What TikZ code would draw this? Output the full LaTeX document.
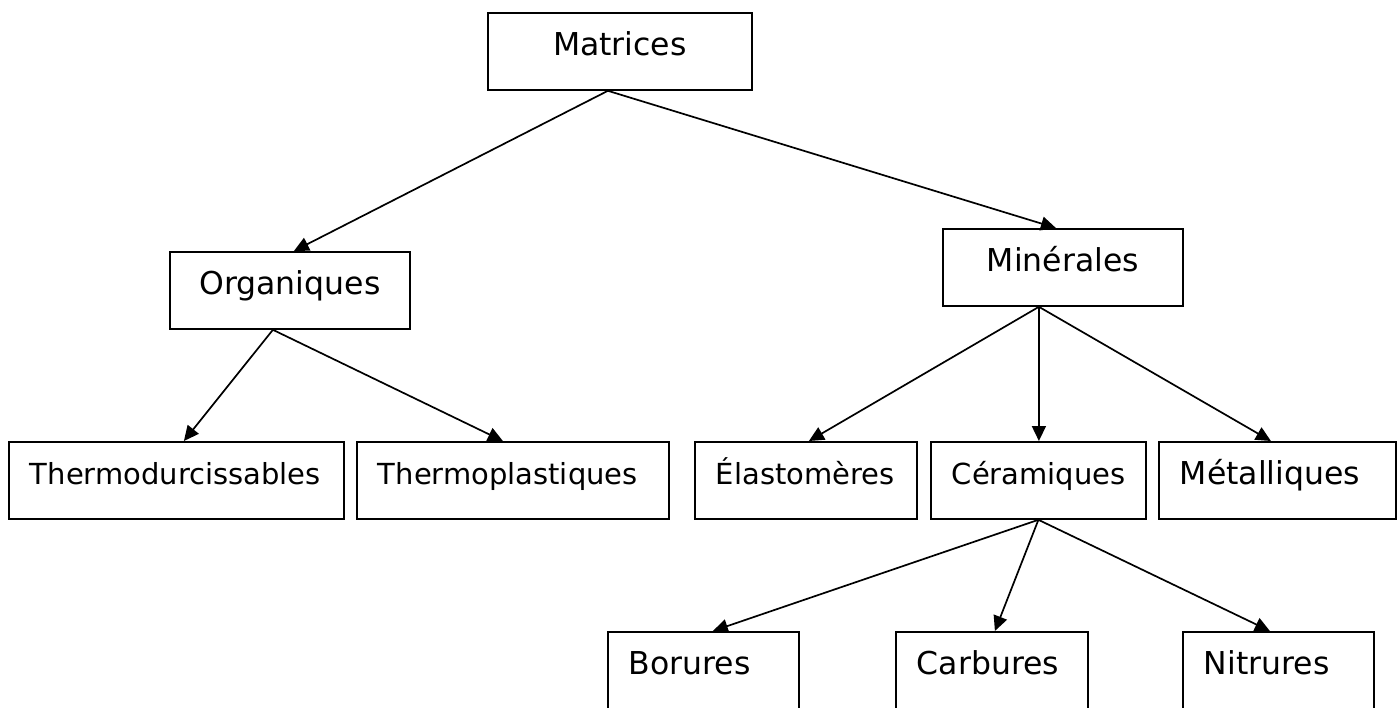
\documentclass[tikz,border=0pt]{standalone}
\usepackage{fontspec}
\setmainfont{DejaVu Sans}
\usepackage{tikz}
\usetikzlibrary{arrows.meta}

\begin{document}
\begin{tikzpicture}[
    x=1pt, y=-1pt,
    boite/.style={draw, line width=1.8pt, anchor=north west, inner ysep=0pt,
        text height=43pt, text depth=34pt},
    centre/.style={boite, inner xsep=0pt, text width=#1, align=center,
        font=\fontsize{31.5}{36}\selectfont},
    gauche/.style={boite, inner xsep=21pt, text width=#1-42pt, align=left,
        font=\fontsize{29}{34}\selectfont},
    bas/.style={gauche=#1, font=\fontsize{31.5}{36}\selectfont},
    fleche/.style={-{Triangle[length=15pt,width=14pt]}, line width=1.7pt}
]
\useasboundingbox (0,0) rectangle (1397,707);

% Top level
\node[centre=264pt] (mat) at (487,12) {Matrices};

% Second level
\node[centre=240pt] (org) at (169,251) {Organiques};
\node[centre=240pt] (min) at (942,228) {Minérales};

% Third level
\node[gauche=335pt] (thd) at (8,441) {Thermodurcissables};
\node[gauche=312pt] (thp) at (356,441) {Thermoplastiques};
\node[gauche=222pt] (ela) at (694,441) {Élastomères};
\node[gauche=215pt] (cer) at (930,441) {Céramiques};
\node[bas=237pt] (met) at (1158,441) {Métalliques};

% Ceramics
\node[bas=191pt] (bor) at (607,631) {Borures};
\node[bas=192pt] (car) at (895,631) {Carbures};
\node[bas=191pt] (nit) at (1182,631) {Nitrures};

% Arrows
\draw[fleche] ([xshift=-12pt]mat.south) -- ([xshift=4pt]org.north);
\draw[fleche] ([xshift=-12pt]mat.south) -- ([xshift=-7pt]min.north);

\draw[fleche] ([xshift=-17pt]org.south) -- ([xshift=7.5pt]thd.north);
\draw[fleche] ([xshift=-17pt]org.south) -- ([xshift=-10pt]thp.north);

\draw[fleche] ([xshift=-24pt]min.south) -- ([xshift=3pt]ela.north);
\draw[fleche] ([xshift=-24pt]min.south) -- ([xshift=0.5pt]cer.north);
\draw[fleche] ([xshift=-24pt]min.south) -- ([xshift=-6.5pt]met.north);

\draw[fleche] (cer.south) -- ([xshift=9.5pt]bor.north);
\draw[fleche] (cer.south) -- ([xshift=3pt]car.north);
\draw[fleche] (cer.south) -- ([xshift=-8.5pt]nit.north);
\end{tikzpicture}
\end{document}
